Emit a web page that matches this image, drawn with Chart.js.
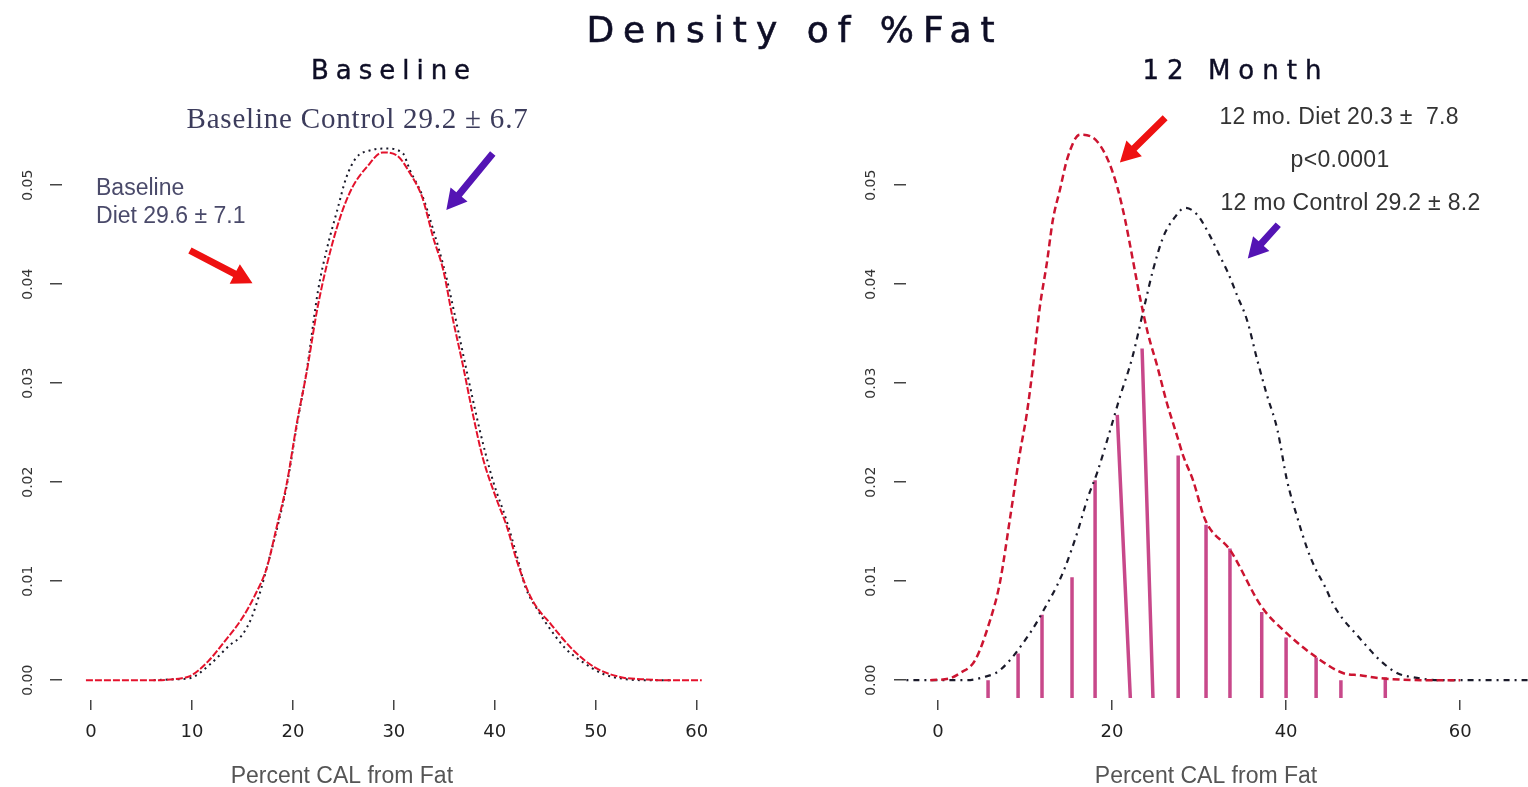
<!DOCTYPE html>
<html><head><meta charset="utf-8">
<script src="https://cdn.jsdelivr.net/npm/chart.js@4.4.1/dist/chart.umd.min.js"></script>
<style>
html,body{margin:0;padding:0;background:#fff;width:1528px;height:787px;overflow:hidden;}
#wrap{position:relative;width:1528px;height:787px;background:#fff;}
.t{position:absolute;white-space:nowrap;font-family:"DejaVu Sans";color:#0e0e26;line-height:1;transform:translateX(-50%);}
#c1{position:absolute;left:0;top:0;width:760px;height:787px;}
#c2{position:absolute;left:760px;top:0;width:768px;height:787px;}
</style></head><body>
<div id="wrap">
<canvas id="c1" width="760" height="787"></canvas>
<canvas id="c2" width="768" height="787"></canvas>
<div class="t" style="left:795px;top:12px;font-size:36px;letter-spacing:9px;-webkit-text-stroke:0.6px #0e0e26;">Density of %Fat</div>
<div class="t" style="left:394px;top:57px;font-size:26px;letter-spacing:7px;-webkit-text-stroke:0.4px #0e0e26;">Baseline</div>
<div class="t" style="left:1236px;top:57px;font-size:26px;letter-spacing:8px;-webkit-text-stroke:0.4px #0e0e26;">12 Month</div>
</div>
<script>
// ---- data ----
const leftDietX = [-0.5,3.4,6.0,9.0,9.8,11.6,13.3,15.0,16.3,17.4,18.4,19.4,20.4,21.4,22.4,23.4,24.7,25.9,27.3,28.9,30.3,31.6,32.8,33.9,34.9,35.8,36.8,37.8,38.8,40.2,41.2,42.2,43.6,45.6,47.8,49.9,52.5,54.7,56.8,60.5];
const leftDietY = [0,0,0,0.0002,0.0004,0.0019,0.0040,0.0063,0.0087,0.0113,0.0155,0.0199,0.0260,0.0313,0.0374,0.0421,0.0468,0.0498,0.0518,0.0533,0.0530,0.0512,0.0488,0.0447,0.0414,0.0367,0.0320,0.0270,0.0225,0.0182,0.0155,0.0120,0.0083,0.0056,0.0030,0.0013,0.0003,0.0001,0,0];
const leftControlX = [6.2,8.5,9.8,11.8,13.7,15.0,15.9,16.7,17.4,18.4,19.4,20.4,21.4,22.5,23.4,24.4,25.3,26.3,27.6,29.3,30.9,31.6,32.8,33.9,35.2,36.2,37.2,38.5,39.8,41.2,42.2,43.0,44.3,45.6,47.0,48.6,50.8,53.0,55.0,57.5];
const leftControlY = [0,0.0001,0.0002,0.0016,0.0035,0.0046,0.0063,0.0087,0.0113,0.0152,0.0197,0.0258,0.0315,0.0394,0.0437,0.0475,0.0508,0.0528,0.0535,0.0537,0.0532,0.0515,0.0490,0.0455,0.0407,0.0361,0.0313,0.0253,0.0202,0.0160,0.0125,0.0095,0.0070,0.0050,0.0032,0.0019,0.0006,0.0001,0,0];

const rightDietX = [-0.9,1.4,2.5,4.25,6.0,7.1,8.3,9.4,10.2,10.9,11.7,12.5,13.2,14.0,14.9,16.3,17.8,19.4,20.6,21.5,22.4,23.2,24.1,25.2,26.3,27.5,28.2,29.3,30.7,33.6,37.2,40.0,43.5,46.6,48.5,50.8,56.6,60];
const rightDietY = [0,0.0002,0.0007,0.0020,0.0061,0.0098,0.0165,0.0229,0.0269,0.0316,0.0377,0.0421,0.0465,0.0495,0.0528,0.0551,0.0548,0.0528,0.0498,0.0465,0.0424,0.0387,0.0351,0.0317,0.0280,0.0246,0.0226,0.0202,0.0162,0.0131,0.0074,0.0048,0.0023,0.0007,0.0005,0.0002,0,0];
const rightControlX = [-4.9,-0.9,3.3,5.2,7.1,10.6,12.6,13.7,14.6,16.0,17.2,18.3,19.8,20.9,22.3,23.8,24.7,25.9,27.0,28.4,29.8,31.3,32.4,33.3,34.4,35.5,36.7,37.8,39.0,40.1,41.3,42.5,43.3,44.5,45.4,46.6,47.9,49.3,50.8,52.8,54.6,57.7,67.8];
const rightControlY = [0,0,0,0.0003,0.0010,0.0048,0.0078,0.0096,0.0114,0.0149,0.0184,0.0210,0.0253,0.0286,0.0325,0.0381,0.0414,0.0448,0.0465,0.0477,0.0470,0.0448,0.0428,0.0412,0.0388,0.0364,0.0323,0.0288,0.0253,0.0202,0.0164,0.0131,0.0114,0.0094,0.0077,0.0061,0.0048,0.0034,0.0020,0.0007,0.0003,0,0];

// histogram spikes (12 month diet): top position/value and foot position
const barX     = [5.75,9.2,11.95,15.4,18.05,20.6,23.45,27.6,30.8,33.55,37.2,40.0,43.45,46.3,51.4];
const barTop   = [0.0000,0.0027,0.0066,0.0104,0.0202,0.0268,0.0335,0.0227,0.0157,0.0133,0.0069,0.0043,0.0023,0.0000,0.0003];
const barFootX = [5.75,9.2,11.95,15.4,18.05,22.1,24.7,27.6,30.8,33.55,37.2,40.0,43.45,46.3,51.4];
const barBase  = -0.0018;

const leftXTicks  = [0,10,20,30,40,50,60];
const rightXTicks = [0,20,40,60];
const yTickLabels = ['0.00','0.01','0.02','0.03','0.04','0.05'];

// ---- helpers ----
const pts = (xs, ys) => xs.map((x, i) => ({x, y: ys[i]}));
function spikes() {
  const d = [];
  barX.forEach((x, i) => {
    d.push({x: barFootX[i], y: barBase});
    d.push({x: x, y: barTop[i]});
    d.push({x: x, y: null});
  });
  return d;
}

const annotate = {
  id: 'annotate',
  afterDatasetsDraw(chart, args, opts) {
    const {ctx} = chart, xs = chart.scales.x, ys = chart.scales.y;
    ctx.save();
    (opts.arrows || []).forEach(a => {
      const x1 = xs.getPixelForValue(a.x1), y1 = ys.getPixelForValue(a.y1);
      const x2 = xs.getPixelForValue(a.x2), y2 = ys.getPixelForValue(a.y2);
      const dx = x2 - x1, dy = y2 - y1, L = Math.hypot(dx, dy);
      const ux = dx / L, uy = dy / L, nx = -uy, ny = ux;
      const hl = 20, hw = 11, sw = 3.5;
      const bx = x2 - ux * hl, by = y2 - uy * hl;
      ctx.beginPath();
      ctx.moveTo(x1 + nx * sw, y1 + ny * sw);
      ctx.lineTo(bx + nx * sw, by + ny * sw);
      ctx.lineTo(bx + nx * hw, by + ny * hw);
      ctx.lineTo(x2, y2);
      ctx.lineTo(bx - nx * hw, by - ny * hw);
      ctx.lineTo(bx - nx * sw, by - ny * sw);
      ctx.lineTo(x1 - nx * sw, y1 - ny * sw);
      ctx.closePath();
      ctx.fillStyle = a.color;
      ctx.fill();
    });
    (opts.texts || []).forEach(t => {
      ctx.font = t.font;
      ctx.fillStyle = t.color;
      ctx.textAlign = t.align || 'center';
      ctx.textBaseline = 'middle';
      ctx.letterSpacing = t.ls || '0px';
      ctx.fillText(t.text, xs.getPixelForValue(t.x), ys.getPixelForValue(t.y));
    });
    ctx.letterSpacing = '0px';
    ctx.restore();
  }
};

function makeChart(id, cfg) {
  return new Chart(document.getElementById(id), {
    type: 'line',
    data: {datasets: cfg.datasets},
    plugins: [annotate],
    options: {
      responsive: false,
      animation: false,
      layout: {padding: {top: 100, right: cfg.padRight, left: 0, bottom: 0}},
      elements: {point: {radius: 0}, line: {cubicInterpolationMode: 'monotone'}},
      plugins: {legend: {display: false}, tooltip: {enabled: false}, annotate: cfg.annot},
      scales: {
        x: {
          type: 'linear', min: cfg.xmin, max: cfg.xmax,
          afterBuildTicks: s => { s.ticks = cfg.xticks.map(v => ({value: v})); },
          ticks: {callback: v => String(v), font: {family: 'DejaVu Sans', size: 18}, color: '#222', padding: 12, maxRotation: 0, autoSkip: false},
          grid: {drawOnChartArea: false, drawTicks: true, tickLength: 10, color: '#444', lineWidth: 1.5},
          border: {display: false},
          afterFit: s => { s.height = 87; }
        },
        y: {
          type: 'linear', min: -0.002, max: 0.0586,
          afterBuildTicks: s => { s.ticks = yTickLabels.map((l, i) => ({value: i * 0.01})); },
          ticks: {callback: (v, i) => yTickLabels[i], font: {family: 'DejaVu Sans', size: 14}, color: '#333',
                  minRotation: 90, maxRotation: 90, crossAlign: 'center', padding: cfg.yPad, autoSkip: false},
          grid: {drawOnChartArea: false, drawTicks: true, tickLength: 12, color: '#444', lineWidth: 1.5},
          border: {display: false},
          afterFit: s => { s.width = cfg.yWidth; }
        }
      }
    }
  });
}

const xTitleFont = '23px "Liberation Sans", Arial, sans-serif';
const noteFont = '23px "Liberation Sans", Arial, sans-serif';

makeChart('c1', {
  xmin: -2.87, xmax: 63, padRight: 33, yWidth: 62, yPad: 6, xticks: leftXTicks,
  datasets: [
    {data: pts(leftDietX, leftDietY), borderColor: '#e4122c', borderWidth: 2, borderDash: [7, 2]},
    {data: pts(leftControlX, leftControlY), borderColor: '#1a1a2a', borderWidth: 2, borderDash: [2, 4]}
  ],
  annot: {
    texts: [
      {text: 'Baseline Control 29.2 ± 6.7', x: 26.4, y: 0.0565, font: '29px "Liberation Serif", "DejaVu Serif", serif', color: '#3c3c5c', ls: '0.8px'},
      {text: 'Baseline', x: 0.5, y: 0.0496, font: noteFont, color: '#4a4a6a', align: 'left'},
      {text: 'Diet 29.6 ± 7.1', x: 0.5, y: 0.0468, font: noteFont, color: '#4a4a6a', align: 'left'},
      {text: 'Percent CAL from Fat', x: 24.85, y: -0.0097, font: xTitleFont, color: '#555'}
    ],
    arrows: [
      {x1: 9.8, y1: 0.0434, x2: 16.0, y2: 0.0401, color: '#ee1111'},
      {x1: 39.8, y1: 0.0532, x2: 35.2, y2: 0.0475, color: '#5414b4'}
    ]
  }
});

makeChart('c2', {
  xmin: -3.68, xmax: 67.8, padRight: 0, yWidth: 146, yPad: 7, xticks: rightXTicks,
  datasets: [
    {data: pts(rightDietX, rightDietY), borderColor: '#cc1430', borderWidth: 2.5, borderDash: [7, 4]},
    {data: pts(rightControlX, rightControlY), borderColor: '#1a1a2a', borderWidth: 2.2, borderDash: [6, 5, 2, 5]},
    {data: spikes(), borderColor: '#c8488a', borderWidth: 3.5, spanGaps: false, cubicInterpolationMode: 'default', tension: 0}
  ],
  annot: {
    texts: [
      {text: '12 mo. Diet 20.3 ±  7.8', x: 46.1, y: 0.0568, font: noteFont, color: '#333', ls: '0.3px'},
      {text: 'p<0.0001', x: 46.2, y: 0.0525, font: noteFont, color: '#333', ls: '0.3px'},
      {text: '12 mo Control 29.2 ± 8.2', x: 47.4, y: 0.0481, font: noteFont, color: '#333', ls: '0.3px'},
      {text: 'Percent CAL from Fat', x: 30.8, y: -0.0097, font: xTitleFont, color: '#555'}
    ],
    arrows: [
      {x1: 26.1, y1: 0.0568, x2: 20.9, y2: 0.0523, color: '#ee1111'},
      {x1: 39.1, y1: 0.0460, x2: 35.6, y2: 0.0426, color: '#5414b4'}
    ]
  }
});
</script>
</body></html>
